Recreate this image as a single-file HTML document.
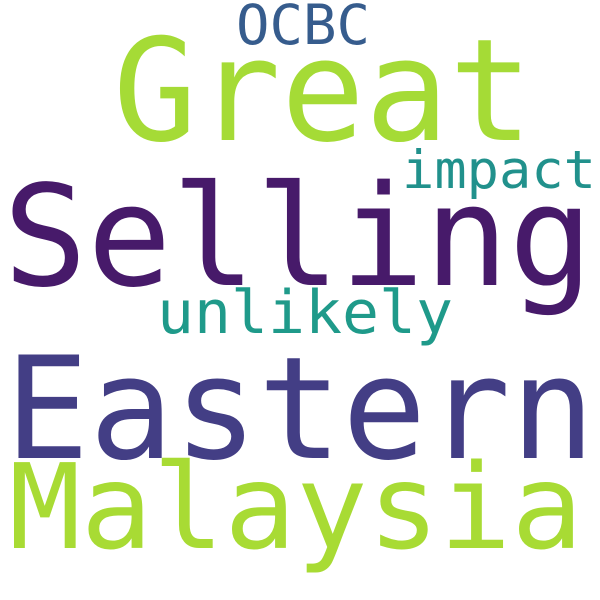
<!DOCTYPE html>
<html>
<head>
<meta charset="utf-8">
<style>
  html, body { margin: 0; padding: 0; background: #ffffff; }
  svg { display: block; }
  text { font-family: "DejaVu Sans Mono", "Liberation Mono", monospace; }
</style>
</head>
<body>
<svg width="600" height="600" viewBox="0 0 600 600">
  <rect width="600" height="600" fill="#ffffff"/>
  <text x="236" y="44" font-size="55" fill="#365c8d" textLength="134" lengthAdjust="spacingAndGlyphs">OCBC</text>
  <text x="113" y="140" font-size="142" fill="#a5db36" textLength="420" lengthAdjust="spacingAndGlyphs">Great</text>
  <text x="402" y="188" font-size="53" fill="#21918c" textLength="194" lengthAdjust="spacingAndGlyphs">impact</text>
  <text x="3" y="285" font-size="140" fill="#471a6a" textLength="590" lengthAdjust="spacingAndGlyphs">Selling</text>
  <text x="157" y="333" font-size="60" fill="#1f9a8a" textLength="296" lengthAdjust="spacingAndGlyphs">unlikely</text>
  <text x="5" y="458" font-size="142" fill="#433e85" textLength="590" lengthAdjust="spacingAndGlyphs">Eastern</text>
  <text x="9" y="548" font-size="118" fill="#a8db34" textLength="574" lengthAdjust="spacingAndGlyphs">Malaysia</text>
</svg>
</body>
</html>
